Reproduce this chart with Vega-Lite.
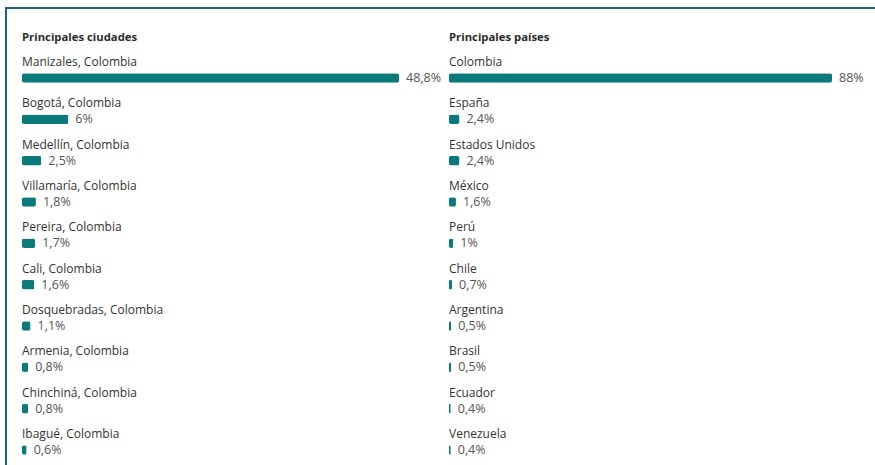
{
  "$schema": "https://vega.github.io/schema/vega-lite/v6.json",
  "width": 869,
  "height": 457,
  "autosize": {"type": "none"},
  "padding": {"left": 6, "top": 8, "right": 0, "bottom": 0},
  "background": "white",
  "config": {
    "view": {"stroke": "#1f5f8b", "strokeWidth": 2, "strokeDash": [869, 1326, 457]},
    "locale": {"number": {"decimal": ",", "thousands": ".", "grouping": [3], "currency": ["", " €"]}},
    "text": {"font": "Open Sans", "fontSize": 12}
  },
  "datasets": {
    "ciudades": [
      {"rank": 0, "name": "Manizales, Colombia", "share": 0.488},
      {"rank": 1, "name": "Bogotá, Colombia", "share": 0.06},
      {"rank": 2, "name": "Medellín, Colombia", "share": 0.025},
      {"rank": 3, "name": "Villamaría, Colombia", "share": 0.018},
      {"rank": 4, "name": "Pereira, Colombia", "share": 0.017},
      {"rank": 5, "name": "Cali, Colombia", "share": 0.016},
      {"rank": 6, "name": "Dosquebradas, Colombia", "share": 0.011},
      {"rank": 7, "name": "Armenia, Colombia", "share": 0.008},
      {"rank": 8, "name": "Chinchiná, Colombia", "share": 0.008},
      {"rank": 9, "name": "Ibagué, Colombia", "share": 0.006}
    ],
    "paises": [
      {"rank": 0, "name": "Colombia", "share": 0.88},
      {"rank": 1, "name": "España", "share": 0.024},
      {"rank": 2, "name": "Estados Unidos", "share": 0.024},
      {"rank": 3, "name": "México", "share": 0.016},
      {"rank": 4, "name": "Perú", "share": 0.01},
      {"rank": 5, "name": "Chile", "share": 0.007},
      {"rank": 6, "name": "Argentina", "share": 0.005},
      {"rank": 7, "name": "Brasil", "share": 0.005},
      {"rank": 8, "name": "Ecuador", "share": 0.004},
      {"rank": 9, "name": "Venezuela", "share": 0.004}
    ],
    "titulos_ciudades": [{"rank": 0, "heading": "Principales ciudades"}],
    "titulos_paises": [{"rank": 0, "heading": "Principales países"}]
  },
  "encoding": {
    "y": {"field": "rank", "type": "quantitative", "axis": null,
          "scale": {"domain": [-1.3066, 9.7504], "reverse": true, "nice": false, "zero": false, "padding": 0}}
  },
  "resolve": {"scale": {"x": "independent"}},
  "layer": [
    {
      "layer": [
        {
          "data": {"name": "ciudades"},
          "mark": {"type": "bar", "orient": "horizontal", "size": 9.5, "yOffset": 16, "color": "#0a7a7b", "cornerRadius": 2},
          "encoding": {
            "x": {"field": "share", "type": "quantitative", "axis": null,
                  "scale": {"domain": [-0.020711, 1.10414], "nice": false, "zero": false, "padding": 0}}
          }
        },
        {
          "data": {"name": "ciudades"},
          "mark": {"type": "text", "align": "left", "baseline": "middle", "dx": 7, "dy": 16, "fontSize": 12.5, "color": "#555555"},
          "encoding": {
            "x": {"field": "share", "type": "quantitative"},
            "text": {"field": "share", "type": "quantitative", "format": ".1~%"}
          }
        },
        {
          "data": {"name": "ciudades"},
          "mark": {"type": "text", "align": "left", "baseline": "middle", "color": "#333333"},
          "encoding": {
            "x": {"datum": 0, "type": "quantitative"},
            "text": {"field": "name", "type": "nominal"}
          }
        },
        {
          "data": {"name": "titulos_ciudades"},
          "mark": {"type": "text", "align": "left", "baseline": "middle", "dy": -24, "fontSize": 11.3, "fontWeight": "bold", "color": "#2b2b2b"},
          "encoding": {
            "x": {"datum": 0, "type": "quantitative"},
            "text": {"field": "heading", "type": "nominal"}
          }
        }
      ]
    },
    {
      "layer": [
        {
          "data": {"name": "paises"},
          "mark": {"type": "bar", "orient": "horizontal", "size": 9.5, "yOffset": 16, "color": "#0a7a7b", "cornerRadius": 2},
          "encoding": {
            "x": {"field": "share", "type": "quantitative", "axis": null,
                  "scale": {"domain": [-1.01785, 0.97879], "nice": false, "zero": false, "padding": 0}}
          }
        },
        {
          "data": {"name": "paises"},
          "mark": {"type": "text", "align": "left", "baseline": "middle", "dx": 7, "dy": 16, "fontSize": 12.5, "color": "#555555"},
          "encoding": {
            "x": {"field": "share", "type": "quantitative"},
            "text": {"field": "share", "type": "quantitative", "format": ".1~%"}
          }
        },
        {
          "data": {"name": "paises"},
          "mark": {"type": "text", "align": "left", "baseline": "middle", "color": "#333333"},
          "encoding": {
            "x": {"datum": 0, "type": "quantitative"},
            "text": {"field": "name", "type": "nominal"}
          }
        },
        {
          "data": {"name": "titulos_paises"},
          "mark": {"type": "text", "align": "left", "baseline": "middle", "dy": -24, "fontSize": 11.3, "fontWeight": "bold", "color": "#2b2b2b"},
          "encoding": {
            "x": {"datum": 0, "type": "quantitative"},
            "text": {"field": "heading", "type": "nominal"}
          }
        }
      ]
    }
  ]
}
